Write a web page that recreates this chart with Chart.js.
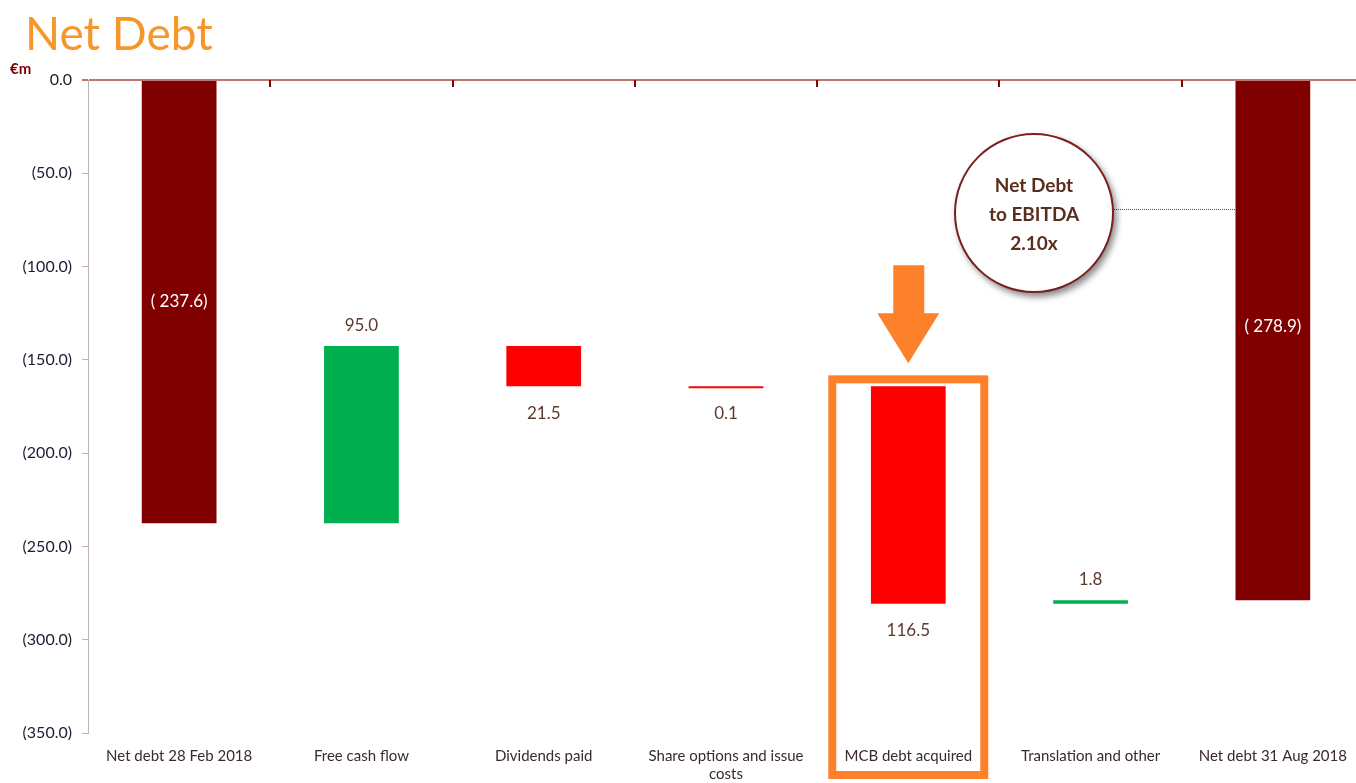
<!DOCTYPE html>
<html>
<head>
<meta charset="utf-8">
<script src="https://cdn.jsdelivr.net/npm/chart.js@4.4.1/dist/chart.umd.min.js"></script>
<style>
  html, body { margin: 0; padding: 0; background: #fff; }
  #wrap { position: relative; width: 1356px; height: 783px; overflow: hidden; }
  #title { position: absolute; left: 25px; top: 5px; font: 46px Lato, sans-serif; color: #f7962a; }
  #unit { position: absolute; left: 10px; top: 59px; font: bold 15px Lato, sans-serif; color: #7a0000; }
  #ratio {
    position: absolute; left: 954px; top: 133px; width: 156px; height: 156px;
    border: 2px solid #7a1f1f; border-radius: 50%; background: #fff;
    box-shadow: 3px 4px 6px rgba(0, 0, 0, 0.45);
    display: flex; align-items: center; justify-content: center; text-align: center;
    font: bold 19px Lato, sans-serif; line-height: 29px; color: #5a2e1e;
  }
</style>
</head>
<body>
<div id="wrap">
  <canvas id="chart" width="1364" height="783"></canvas>
  <div id="title">Net Debt</div>
  <div id="unit">€m</div>
  <div id="ratio"><div>Net Debt<br>to EBITDA<br>2.10x</div></div>
</div>
<script>
// Waterfall data (€m)
const categories = [
  "Net debt 28 Feb 2018",
  "Free cash flow",
  "Dividends paid",
  ["Share options and issue", "costs"],
  "MCB debt acquired",
  "Translation and other",
  "Net debt 31 Aug 2018"
];
const openingDebt = -237.6;
const movements = [95.0, -21.5, -0.1, -116.5, 1.8];
const closingDebt = -278.9;
const yTicks = [0, -50, -100, -150, -200, -250, -300, -350];

// build floating ranges from the running total
const ranges = [[0, openingDebt]];
let running = openingDebt;
movements.forEach(m => {
  ranges.push([running, running + m]);
  running = running + m;
});
ranges.push([0, closingDebt]);

const lastIdx = ranges.length - 1;
const colors = ranges.map((r, i) => {
  if (i === 0 || i === lastIdx) return "#800000";
  return r[1] > r[0] ? "#00b050" : "#ff0000";
});

const fmt = v => Math.abs(v).toFixed(1);

// value labels on the bars
const labelPlugin = {
  id: "valueLabels",
  afterDatasetsDraw(chart) {
    const ctx = chart.ctx;
    const y = chart.scales.y;
    const meta = chart.getDatasetMeta(0);
    ctx.save();
    ctx.font = "17px Lato, sans-serif";
    ctx.textAlign = "center";
    ctx.textBaseline = "middle";
    ranges.forEach((r, i) => {
      const x = meta.data[i].x;
      const p0 = y.getPixelForValue(r[0]);
      const p1 = y.getPixelForValue(r[1]);
      if (i === 0 || i === lastIdx) {
        ctx.fillStyle = "#ffffff";
        ctx.fillText("( " + fmt(r[1]) + ")", x, (p0 + p1) / 2 - (i === lastIdx ? 14 : 0));
      } else {
        const m = movements[i - 1];
        ctx.fillStyle = "#5c3a2e";
        if (m > 0) ctx.fillText(fmt(m), x, Math.min(p0, p1) - 21);
        else ctx.fillText(fmt(m), x, Math.max(p0, p1) + 27);
      }
    });
    ctx.restore();
  }
};

// category tick marks hanging from the zero line, plus the call-outs
const extrasPlugin = {
  id: "extras",
  afterDraw(chart) {
    const ctx = chart.ctx;
    const xs = chart.scales.x;
    const ys = chart.scales.y;
    const top = chart.chartArea.top;
    ctx.save();

    ctx.strokeStyle = "#8b0000";
    ctx.lineWidth = 2;
    for (let i = 1; i < categories.length; i++) {
      const bx = Math.round((xs.getPixelForValue(i - 1) + xs.getPixelForValue(i)) / 2);
      ctx.beginPath();
      ctx.moveTo(bx, top);
      ctx.lineTo(bx, top + 7);
      ctx.stroke();
    }

    // highlight box and arrow on MCB debt acquired
    const meta = chart.getDatasetMeta(0);
    const cx = meta.data[4].x;
    const barTop = ys.getPixelForValue(ranges[4][0]);
    const boxTop = barTop - 11;
    ctx.strokeStyle = "#fd812a";
    ctx.lineWidth = 8;
    ctx.strokeRect(cx - 76, boxTop + 4, 152, chart.height - 12 - boxTop);

    const tip = boxTop - 12;
    ctx.fillStyle = "#fd812a";
    ctx.beginPath();
    ctx.moveTo(cx - 15, tip - 98);
    ctx.lineTo(cx + 16, tip - 98);
    ctx.lineTo(cx + 16, tip - 50);
    ctx.lineTo(cx + 31, tip - 50);
    ctx.lineTo(cx, tip);
    ctx.lineTo(cx - 31, tip - 50);
    ctx.lineTo(cx - 15, tip - 50);
    ctx.closePath();
    ctx.fill();

    // dotted leader from the ratio circle to the closing bar
    const last = meta.data[lastIdx];
    ctx.strokeStyle = "#8b3a3a";
    ctx.lineWidth = 1;
    ctx.setLineDash([1, 1]);
    ctx.beginPath();
    ctx.moveTo(1110, 209.5);
    ctx.lineTo(last.x - last.width / 2, 209.5);
    ctx.stroke();
    ctx.restore();
  }
};

new Chart(document.getElementById("chart"), {
  type: "bar",
  data: {
    labels: categories,
    datasets: [{
      data: ranges,
      backgroundColor: colors,
      borderWidth: 0,
      minBarLength: 2,
      barPercentage: 0.41,
      categoryPercentage: 1
    }]
  },
  options: {
    responsive: false,
    animation: false,
    layout: { padding: { top: 80, left: 0, right: 0, bottom: 0 } },
    plugins: {
      legend: { display: false },
      tooltip: { enabled: false }
    },
    scales: {
      x: {
        grid: { display: false },
        border: { display: false },
        ticks: {
          color: "#3a2a2a",
          font: { family: "Lato, sans-serif", size: 15 },
          padding: 6,
          maxRotation: 0,
          autoSkip: false
        },
        afterFit(scale) { scale.height = 50; }
      },
      y: {
        min: -350,
        max: 0,
        afterBuildTicks(scale) { scale.ticks = yTicks.map(v => ({ value: v })); },
        ticks: {
          color: "#1c1c30",
          font: { family: "Lato, sans-serif", size: 16 },
          padding: 10,
          callback: v => v === 0 ? "0.0" : "(" + fmt(v) + ")"
        },
        grid: {
          drawOnChartArea: true,
          color: c => c.tick && c.tick.value === 0 ? "#c07575" : "rgba(0,0,0,0)",
          lineWidth: c => c.tick && c.tick.value === 0 ? 2 : 1,
          tickColor: c => c.tick && c.tick.value === 0 ? "#c07575" : "#bfb3b3",
          tickLength: 6
        },
        border: { display: true, color: "#bfb3b3", width: 1 },
        afterFit(scale) { scale.width = 88; }
      }
    }
  },
  plugins: [labelPlugin, extrasPlugin]
});
</script>
</body>
</html>
